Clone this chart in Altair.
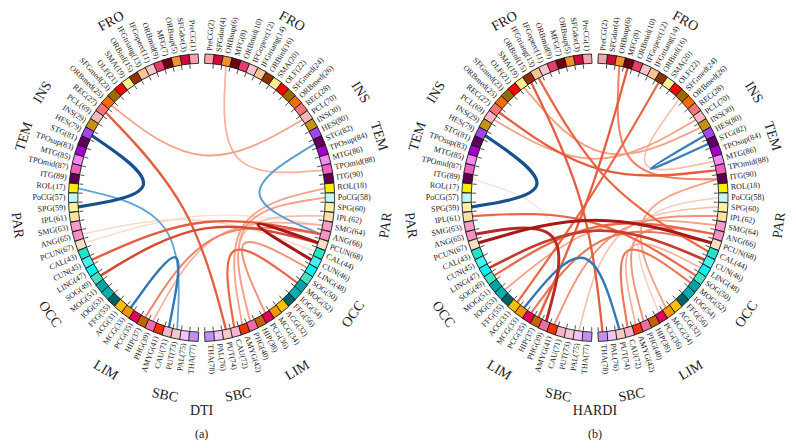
import math
import altair as alt
import pandas as pd

# ---------------- data ----------------
region_names = ["PreCG", "SFGdor", "ORBsup", "MFG", "ORBmid", "IFGoperc", "IFGtriang", "ORBinf",
                "SMA", "OLF", "SFGmed", "ORBmed", "REC", "PCL", "INS",
                "HES", "STG", "TPOsup", "MTG", "TPOmid", "ITG",
                "ROL", "PoCG", "SPG", "IPL", "SMG", "ANG", "PCUN",
                "CAL", "CUN", "LING", "SOG", "MOG", "IOG", "FFG",
                "ACG", "MCG", "PCG", "HIP", "PHG",
                "AMYG", "CAU", "PUT", "PAL", "THA"]
region_left_ids = [1, 3, 5, 7, 9, 11, 13, 15, 19, 21, 23, 25, 27, 69, 29,
                   79, 81, 83, 85, 87, 89,
                   17, 57, 59, 61, 63, 65, 67,
                   43, 45, 47, 49, 51, 53, 55,
                   31, 33, 35, 37, 39,
                   41, 71, 73, 75, 77]
region_lobes = ["FRO"] * 14 + ["INS"] + ["TEM"] * 6 + ["PAR"] * 7 + ["OCC"] * 7 + ["LIM"] * 5 + ["SBC"] * 5
region_colors = ["#f5a3ab", "#cc0a3c", "#f3922c", "#6e0010", "#e83c6c", "#f8c3cb", "#f9c397", "#8f3204",
                 "#f7f08c", "#f20808", "#986a00", "#f46c08", "#f27474", "#f8b6c0", "#c39314",
                 "#a542f2", "#5e005e", "#a300cc", "#f488f4", "#f25fc0", "#5c0052",
                 "#f8f000", "#c3f7f7", "#f8f0a2", "#f8e0a8", "#f79ccb", "#f293c4", "#f9dcc6",
                 "#1ce8c4", "#45f2f2", "#00f2f2", "#3fe3bd", "#00a3a3", "#00b0b0", "#006363",
                 "#f8c000", "#f79400", "#e3005a", "#c66000", "#f06ca5",
                 "#f23200", "#f8b3cc", "#f8c9c9", "#f2c3f8", "#c290f2"]
lobe_order = ["FRO", "INS", "TEM", "PAR", "OCC", "LIM", "SBC"]
panel_titles = ["DTI", "HARDI"]
panel_tags = ["(a)", "(b)"]

# connections: AAL ids of both ends and signed strength (negative = blue, positive = red)
dti_edge_a = [79, 17, 33, 82, 6, 25, 27, 72, 18, 49, 45, 67, 65, 68, 37, 39, 58, 40, 36]
dti_edge_b = [59, 73, 71, 66, 88, 70, 74, 52, 42, 68, 66, 64, 44, 46, 66, 64, 40, 62, 48]
dti_edge_w = [-1.0, -0.3, -0.6, -0.35, 0.25, 0.3, 0.55, 0.5, 0.3, 0.65, 0.55, 0.1, 0.12, 0.95, 0.4, 0.25, 0.3, 0.2, 0.35]

hardi_edge_a = [79, 80, 33, 67, 65, 47, 15, 8, 16, 27, 69, 6, 89, 61, 49, 53, 72, 42, 40, 36, 35, 41, 13, 19, 75, 24, 90]
hardi_edge_b = [59, 82, 74, 68, 39, 46, 78, 37, 31, 88, 70, 90, 37, 50, 66, 64, 52, 48, 66, 58, 68, 62, 44, 30, 60, 86, 34]
hardi_edge_w = [-1.0, -0.55, -0.6, 0.95, 0.85, 0.75, 0.55, 0.55, 0.5, 0.55, 0.3, 0.4, 0.08, 0.5, 0.5, 0.3,
                0.45, 0.25, 0.35, 0.15, 0.45, 0.35, 0.5, 0.3, 0.2, 0.2, 0.3]

# ---------------- layout ----------------
CX = [198.0, 596.5]
CY = 197.0
RX, RY = 130.0, 140.0
GAP = 3.5
STEP = (180.0 - 2 * GAP) / 44.0
FONT = "Liberation Serif"

slot = {}
for k, lid in enumerate(region_left_ids):
    slot[lid] = ("L", k)
    slot[lid + 1] = ("R", k)


def phi(side, k):
    return 90 + GAP + k * STEP if side == "L" else 90 - GAP - k * STEP


def pos(p, ang, dr=0.0, f=1.0):
    a = math.radians(ang)
    return CX[p] + (RX * f + dr) * math.cos(a), CY - (RY * f + dr) * math.sin(a)


node_rows, edge_rows, lobe_rows, cap_rows = [], [], [], []
for p in range(2):
    for side in ("L", "R"):
        for k in range(45):
            ang = phi(side, k)
            x, y = pos(p, ang)
            tx, ty = pos(p, ang, 8.0)
            tang = ang + (STEP / 2 if side == "L" else -STEP / 2)
            t1x, t1y = pos(p, tang, -5.5)
            t2x, t2y = pos(p, tang, -9.5)
            nid = region_left_ids[k] + (0 if side == "L" else 1)
            node_rows.append(dict(
                x=x, y=y, tx=tx, ty=ty, kx=t1x, ky=t1y, kx2=t2x, ky2=t2y, side=side,
                color=region_colors[k], label=f"{region_names[k]}({nid})",
                bang=(-ang) % 90,
                tang=((180 - ang) if side == "L" else (-ang)) % 360))
        for lobe in lobe_order:
            ks = [k for k in range(45) if region_lobes[k] == lobe]
            am = sum(phi(side, k) for k in ks) / len(ks)
            lx, ly = pos(p, am, 0.0, 1.45)
            a = 90 - am
            while a > 90:
                a -= 180
            while a <= -90:
                a += 180
            lobe_rows.append(dict(x=lx, y=ly, text=lobe, ang=a % 360))
    cap_rows.append(dict(x=CX[p], y=CY + 215, text=panel_titles[p], size=14))
    cap_rows.append(dict(x=CX[p], y=CY + 238, text=panel_tags[p], size=12))

    ea, eb, ew = [(dti_edge_a, dti_edge_b, dti_edge_w), (hardi_edge_a, hardi_edge_b, hardi_edge_w)][p]
    for i, (a_id, b_id, w) in enumerate(zip(ea, eb, ew)):
        sa, ka = slot[a_id]
        sb, kb = slot[b_id]
        ax, ay = pos(p, phi(sa, ka), -5.0)
        bx, by = pos(p, phi(sb, kb), -5.0)
        kx = 0.75 * CX[p] + 0.125 * (ax + bx)
        ky = 0.75 * CY + 0.125 * (ay + by)
        eid = f"{int(abs(w) * 100):03d}_{p}_{i:02d}"
        for j, (px, py) in enumerate([(ax, ay), (kx, ky), (bx, by)]):
            edge_rows.append(dict(x=px, y=py, pt=j, eid=eid, w=w, aw=abs(w)))

nodes = pd.DataFrame(node_rows)
edges = pd.DataFrame(edge_rows).sort_values(["eid", "pt"])
lobes = pd.DataFrame(lobe_rows)
caps = pd.DataFrame(cap_rows)

XS = alt.Scale(domain=[8, 788], nice=False, zero=False)
YS = alt.Scale(domain=[8, 440], nice=False, zero=False, reverse=True)
X = alt.X("x:Q", scale=XS, axis=None)
Y = alt.Y("y:Q", scale=YS, axis=None)

edge_layer = alt.Chart(edges).mark_line(interpolate="basis", strokeCap="round").encode(
    x=X, y=Y, detail="eid:N", order="pt:Q",
    color=alt.Color("w:Q", legend=None, scale=alt.Scale(
        domain=[-1, -0.5, -0.2, 0, 0.08, 0.5, 1.0],
        range=["#17508f", "#3a82c0", "#78b6de", "#ffffff", "#fde3d7", "#eb6644", "#a00f14"],
        interpolate="rgb")),
    strokeWidth=alt.StrokeWidth("aw:Q", legend=None, scale=alt.Scale(domain=[0, 1], range=[1.2, 3.2])),
)

tick_layer = alt.Chart(nodes).mark_rule(color="#222222", strokeWidth=0.8).encode(
    x=alt.X("kx:Q", scale=XS, axis=None),
    y=alt.Y("ky:Q", scale=YS, axis=None),
    x2="kx2:Q", y2="ky2:Q")

box_layer = alt.Chart(nodes).mark_point(shape="square", filled=True, size=88, stroke="#111111",
                                         strokeWidth=0.8, opacity=1).encode(
    x=X, y=Y,
    fill=alt.Fill("color:N", scale=None),
    angle=alt.Angle("bang:Q", scale=None))

TX = alt.X("tx:Q", scale=XS, axis=None)
TY = alt.Y("ty:Q", scale=YS, axis=None)

label_left = alt.Chart(nodes[nodes.side == "L"]).mark_text(
    align="right", baseline="middle", font=FONT, fontSize=8, color="#222222").encode(
    x=TX, y=TY, text="label:N", angle=alt.Angle("tang:Q", scale=None))
label_right = alt.Chart(nodes[nodes.side == "R"]).mark_text(
    align="left", baseline="middle", font=FONT, fontSize=8, color="#222222").encode(
    x=TX, y=TY, text="label:N", angle=alt.Angle("tang:Q", scale=None))

lobe_layer = alt.Chart(lobes).mark_text(
    align="center", baseline="middle", font=FONT, fontSize=14, color="#222222").encode(
    x=X, y=Y, text="text:N", angle=alt.Angle("ang:Q", scale=None))

cap_layer = alt.Chart(caps).mark_text(
    align="center", baseline="middle", font=FONT, color="#222222").encode(
    x=X, y=Y, text="text:N", size=alt.Size("size:Q", scale=None))

chart = alt.layer(edge_layer, tick_layer, box_layer, label_left, label_right, lobe_layer, cap_layer).properties(
    width=780, height=432, padding=0,
    autosize=alt.AutoSizeParams(type="fit", contains="padding"),
).configure_view(stroke=None)

chart.save("out.html", embed_options={"renderer": "svg", "actions": False})
